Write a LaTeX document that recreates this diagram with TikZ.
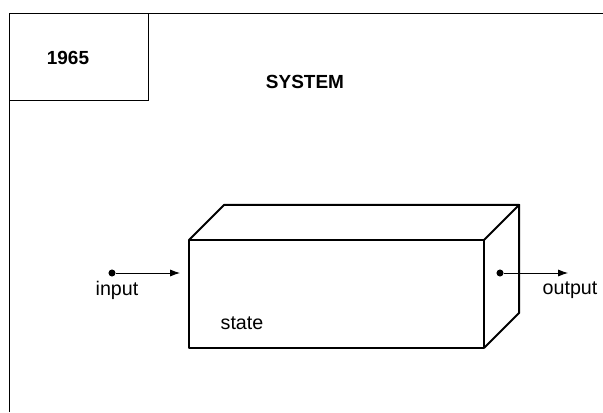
\documentclass[tikz,border=0pt]{standalone}
\usepackage{fontspec}
\setmainfont{Liberation Sans}
\usetikzlibrary{calc, arrows.meta, positioning}

\tikzset{
    thinline/.style={line width=0.6pt},
    boxline/.style={line width=1.4pt, line join=round},
    label/.style={font=\fontsize{14}{16}\selectfont, inner sep=0pt},
    heading/.style={font=\fontsize{13.5}{16}\selectfont\bfseries, inner sep=0pt},
    port/.style={circle, fill=black, inner sep=0pt, minimum size=5pt}
}

\begin{document}
\begin{tikzpicture}[>={Latex[length=7pt, width=5pt]}, scale=1.0]
    \useasboundingbox (0,0) rectangle (15.075,10.3);

    % 1. Khung ngoai va o nam
    \draw[thinline] (0.225,0) -- (0.225,9.975) -- (15.075,9.975);
    \draw[thinline] (0.225,7.8) -- (3.7,7.8) -- (3.7,9.975);
    \node[heading] (year) at (1.7,8.85) {1965};
    \node[heading] (title) at (7.625,8.25) {SYSTEM};

    % 2. Hop he thong
    \coordinate (fbl) at (4.725,1.6);
    \coordinate (fbr) at (12.1,1.6);
    \coordinate (ftr) at (12.1,4.3);
    \coordinate (ftl) at (4.725,4.3);
    \coordinate (btl) at ($(ftl)+(0.88,0.88)$);
    \coordinate (btr) at ($(ftr)+(0.88,0.88)$);
    \coordinate (bbr) at ($(fbr)+(0.88,0.88)$);
    \draw[boxline] (fbl) rectangle (ftr);
    \draw[boxline] (ftl) -- (btl) -- (btr) -- (ftr);
    \draw[boxline] (btr) -- (bbr) -- (fbr);
    \node[label] (state) at (6.05,2.225) {state};

    % 3. Dau vao va dau ra
    \node[port] (in) at (2.8,3.475) {};
    \coordinate (inend) at (4.5,3.475);
    \draw[->, thinline] (in) -- (inend);
    \node[label] (inlabel) at (2.925,3.05) {input};

    \node[port] (out) at (12.5,3.475) {};
    \coordinate (outend) at (14.2,3.475);
    \draw[->, thinline] (out) -- (outend);
    \node[label] (outlabel) at (14.25,3.05) {output};
\end{tikzpicture}
\end{document}
